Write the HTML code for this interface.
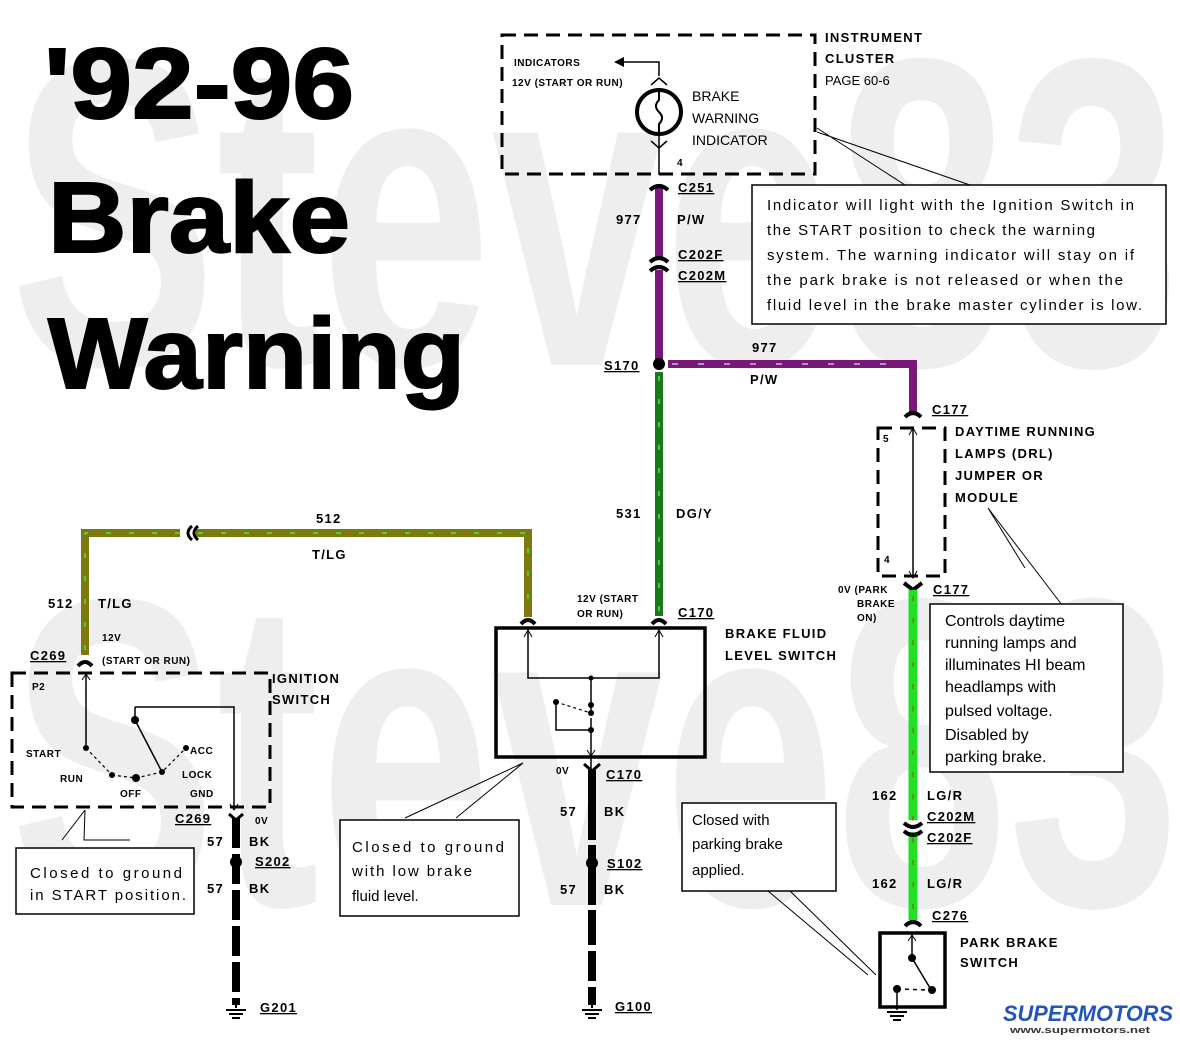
<!DOCTYPE html>
<html><head><meta charset="utf-8"><style>
html,body{margin:0;padding:0;background:#fff}
svg{display:block}
.b{font-family:"Liberation Sans",sans-serif;font-weight:bold;fill:#000}
.s{font-family:"Liberation Sans",sans-serif;fill:#000}
.m{font-family:"Liberation Sans",sans-serif;font-weight:bold;fill:#000;font-size:13px;letter-spacing:1.3px}
.t{font-size:10px;letter-spacing:0.5px}
</style></head><body>
<svg width="1180" height="1040" viewBox="0 0 1180 1040" xmlns="http://www.w3.org/2000/svg">
<text x="10" y="365" class="b" font-size="440" style="fill:#eeeeee" textLength="1170" lengthAdjust="spacingAndGlyphs">Steve83</text>
<text x="10" y="905" class="b" font-size="440" style="fill:#eeeeee" textLength="1170" lengthAdjust="spacingAndGlyphs">Steve83</text>

<text x="44" y="118" class="b" font-size="100" stroke="#000" stroke-width="2" textLength="310" lengthAdjust="spacingAndGlyphs">'92-96</text>
<text x="48" y="252" class="b" font-size="100" stroke="#000" stroke-width="2" textLength="302" lengthAdjust="spacingAndGlyphs">Brake</text>
<text x="48" y="388" class="b" font-size="100" stroke="#000" stroke-width="2" textLength="417" lengthAdjust="spacingAndGlyphs">Warning</text>

<rect x="502" y="35" width="313" height="139" fill="none" stroke="#000" stroke-width="3" stroke-dasharray="14,8"/>
<text x="825" y="42" class="m">INSTRUMENT</text>
<text x="825" y="63" class="m">CLUSTER</text>
<text x="825" y="85" class="s" font-size="13">PAGE 60-6</text>
<text x="514" y="66" class="m t">INDICATORS</text>
<text x="512" y="86" class="m t">12V (START OR RUN)</text>
<polyline points="659,76 659,62 622,62" fill="none" stroke="#000" stroke-width="1.5"/>
<polygon points="614,62 624,57 624,67" fill="#000"/>
<circle cx="659" cy="112" r="22" fill="#fff" stroke="#000" stroke-width="4"/>
<path d="M659,92 v8 q-6,6 0,12 q6,6 0,12 v8" fill="none" stroke="#000" stroke-width="2"/>
<polyline points="651,85 659,78 667,85" fill="none" stroke="#000" stroke-width="1.5"/>
<polyline points="651,141 659,148 667,141" fill="none" stroke="#000" stroke-width="1.5"/>
<line x1="659" y1="134" x2="659" y2="175" stroke="#000" stroke-width="1.5"/>
<text x="692" y="101" class="s" font-size="14">BRAKE</text>
<text x="692" y="123" class="s" font-size="14">WARNING</text>
<text x="692" y="145" class="s" font-size="14">INDICATOR</text>
<text x="677" y="166" class="m t">4</text>

<line x1="659" y1="186" x2="659" y2="260" stroke="#7a187a" stroke-width="8"/>
<line x1="659" y1="270" x2="659" y2="366" stroke="#7a187a" stroke-width="8"/>
<polyline points="668,364 913,364 913,412" fill="none" stroke="#7a187a" stroke-width="8"/>
<line x1="672" y1="364" x2="905" y2="364" stroke="#fff" stroke-width="1" stroke-dasharray="6,20"/>
<path d="M650,190 q9,-8 18,0" fill="none" stroke="#000" stroke-width="4"/>
<path d="M650,262 q9,-8 18,0 M650,271 q9,-8 18,0" fill="none" stroke="#000" stroke-width="4"/>
<text x="678" y="192" class="m" style="text-decoration:underline">C251</text>
<text x="616" y="224" class="m">977</text>
<text x="677" y="224" class="m">P/W</text>
<text x="678" y="259" class="m" style="text-decoration:underline">C202F</text>
<text x="678" y="280" class="m" style="text-decoration:underline">C202M</text>
<circle cx="659" cy="364" r="6" fill="#000"/>
<text x="604" y="370" class="m" style="text-decoration:underline">S170</text>
<text x="752" y="352" class="m">977</text>
<text x="750" y="384" class="m">P/W</text>

<path d="M817,128 L905,185 M817,132 L970,185" fill="none" stroke="#000" stroke-width="1"/>
<rect x="752" y="185" width="414" height="139" fill="#fff" stroke="#000" stroke-width="1.5"/>
<g class="s" font-size="15">
<text x="767" y="210" textLength="367">Indicator will light with the Ignition Switch in</text>
<text x="767" y="235" textLength="328">the START position to check the warning</text>
<text x="767" y="260" textLength="367">system. The warning indicator will stay on if</text>
<text x="767" y="285" textLength="356">the park brake is not released or when the</text>
<text x="767" y="310" textLength="375">fluid level in the brake master cylinder is low.</text>
</g>

<line x1="659" y1="372" x2="659" y2="616" stroke="#1a7a1a" stroke-width="8"/>
<line x1="659" y1="376" x2="659" y2="612" stroke="#9f9" stroke-width="1" stroke-dasharray="5,18"/>
<text x="616" y="518" class="m">531</text>
<text x="676" y="518" class="m">DG/Y</text>

<polyline points="85,655 85,533 528,533 528,617" fill="none" stroke="#7a7a10" stroke-width="8"/>
<polyline points="85,650 85,533 528,533 528,612" fill="none" stroke="#4f4" stroke-width="1.2" stroke-dasharray="5,18"/>
<rect x="180" y="524" width="16" height="18" fill="#fff"/>
<path d="M192,526 q-8,7 0,14 M198,526 q-8,7 0,14" fill="none" stroke="#000" stroke-width="3"/>
<text x="316" y="523" class="m">512</text>
<text x="312" y="559" class="m">T/LG</text>
<text x="48" y="608" class="m">512</text>
<text x="98" y="608" class="m">T/LG</text>
<path d="M78,666 q7,-8 14,0" fill="none" stroke="#000" stroke-width="4"/>
<path d="M521,624 q7,-8 14,0" fill="none" stroke="#000" stroke-width="4"/>
<path d="M652,624 q7,-8 14,0" fill="none" stroke="#000" stroke-width="4"/>
<text x="30" y="660" class="m" style="text-decoration:underline">C269</text>
<text x="102" y="641" class="m t">12V</text>
<text x="102" y="664" class="m t">(START OR RUN)</text>
<text x="577" y="602" class="m t">12V (START</text>
<text x="577" y="617" class="m t">OR RUN)</text>
<text x="678" y="617" class="m" style="text-decoration:underline">C170</text>

<rect x="12" y="673" width="258" height="134" fill="none" stroke="#000" stroke-width="3" stroke-dasharray="14,8"/>
<text x="272" y="683" class="m">IGNITION</text>
<text x="272" y="704" class="m">SWITCH</text>
<text x="32" y="690" class="m t">P2</text>
<line x1="86" y1="674" x2="86" y2="748" stroke="#000" stroke-width="1.5"/>
<polyline points="82,680 86,674 90,680" fill="none" stroke="#000" stroke-width="1"/>
<circle cx="86" cy="748" r="3" fill="#000"/>
<text x="26" y="757" class="m t">START</text>
<text x="60" y="782" class="m t">RUN</text>
<text x="120" y="797" class="m t">OFF</text>
<text x="190" y="754" class="m t">ACC</text>
<text x="182" y="778" class="m t">LOCK</text>
<text x="190" y="797" class="m t">GND</text>
<circle cx="112" cy="775" r="3" fill="#000"/>
<circle cx="136" cy="778" r="4" fill="#000"/>
<circle cx="162" cy="772" r="3" fill="#000"/>
<circle cx="186" cy="748" r="3" fill="#000"/>
<circle cx="135" cy="720" r="4" fill="#000"/>
<path d="M86,748 L112,775 M112,775 L136,778 L162,772 L186,748" fill="none" stroke="#000" stroke-width="1.2" stroke-dasharray="3,3"/>
<line x1="135" y1="720" x2="162" y2="772" stroke="#000" stroke-width="1.5"/>
<polyline points="135,707 234,707 234,810" fill="none" stroke="#000" stroke-width="1.5"/>
<line x1="135" y1="707" x2="135" y2="720" stroke="#000" stroke-width="1.5"/>
<polyline points="230,804 234,810 238,804" fill="none" stroke="#000" stroke-width="1"/>
<text x="255" y="824" class="m t">0V</text>
<text x="175" y="823" class="m" style="text-decoration:underline">C269</text>
<path d="M229,814 L236,820 L243,814" fill="none" stroke="#000" stroke-width="3"/>
<line x1="236" y1="818" x2="236" y2="1005" stroke="#000" stroke-width="8" stroke-dasharray="30,6"/>
<circle cx="236" cy="862" r="6" fill="#000"/>
<text x="207" y="846" class="m">57</text><text x="249" y="846" class="m">BK</text>
<text x="255" y="866" class="m" style="text-decoration:underline">S202</text>
<text x="207" y="893" class="m">57</text><text x="249" y="893" class="m">BK</text>
<path d="M236,1000 v8 M226,1010 h20 M229,1014 h14 M232,1018 h8" stroke="#000" stroke-width="2"/>
<text x="260" y="1012" class="m" style="text-decoration:underline">G201</text>
<path d="M85,810 L62,840 M85,810 L84,840 L130,840" fill="none" stroke="#000" stroke-width="1"/>
<rect x="16" y="848" width="178" height="66" fill="#fff" stroke="#000" stroke-width="1.5"/>
<text x="30" y="878" class="s" font-size="15" textLength="152">Closed to ground</text>
<text x="30" y="900" class="s" font-size="15" textLength="156">in START position.</text>

<rect x="496" y="628" width="209" height="129" fill="none" stroke="#000" stroke-width="3.5"/>
<text x="725" y="638" class="m">BRAKE FLUID</text>
<text x="725" y="660" class="m">LEVEL SWITCH</text>
<polyline points="528,630 528,678 659,678 659,630" fill="none" stroke="#000" stroke-width="1.5"/>
<polyline points="524,637 528,630 532,637" fill="none" stroke="#000" stroke-width="1"/>
<polyline points="655,637 659,630 663,637" fill="none" stroke="#000" stroke-width="1"/>
<line x1="591" y1="678" x2="591" y2="712" stroke="#000" stroke-width="1.5"/>
<circle cx="591" cy="678" r="2.5" fill="#000"/>
<circle cx="591" cy="705" r="3" fill="#000"/><circle cx="591" cy="713" r="3" fill="#000"/>
<circle cx="556" cy="702" r="3" fill="#000"/>
<line x1="556" y1="702" x2="591" y2="713" stroke="#000" stroke-width="1.2" stroke-dasharray="3,3"/>
<polyline points="556,702 556,730 591,730" fill="none" stroke="#000" stroke-width="1.5"/>
<circle cx="591" cy="730" r="3" fill="#000"/>
<line x1="591" y1="718" x2="591" y2="775" stroke="#000" stroke-width="1.5"/>
<polyline points="587,750 591,756 595,750" fill="none" stroke="#000" stroke-width="1"/>
<path d="M584,764 L592,771 L600,764" fill="none" stroke="#000" stroke-width="3"/>
<text x="556" y="774" class="m t">0V</text>
<text x="606" y="779" class="m" style="text-decoration:underline">C170</text>
<line x1="592" y1="770" x2="592" y2="1005" stroke="#000" stroke-width="8" stroke-dasharray="70,5,60,5,35,6,30,6"/>
<circle cx="592" cy="863" r="6" fill="#000"/>
<text x="560" y="816" class="m">57</text><text x="604" y="816" class="m">BK</text>
<text x="607" y="868" class="m" style="text-decoration:underline">S102</text>
<text x="560" y="894" class="m">57</text><text x="604" y="894" class="m">BK</text>
<path d="M592,1000 v8 M582,1010 h20 M585,1014 h14 M588,1018 h8" stroke="#000" stroke-width="2"/>
<text x="615" y="1011" class="m" style="text-decoration:underline">G100</text>
<path d="M405,818 L523,763 L456,818" fill="none" stroke="#000" stroke-width="1"/>
<rect x="340" y="820" width="179" height="96" fill="#fff" stroke="#000" stroke-width="1.5"/>
<text x="352" y="852" class="s" font-size="15" textLength="152">Closed to ground</text>
<text x="352" y="876" class="s" font-size="15" textLength="120">with low brake</text>
<text x="352" y="901" class="s" font-size="15">fluid level.</text>

<path d="M905,417 q8,-8 16,0" fill="none" stroke="#000" stroke-width="4"/>
<text x="932" y="414" class="m" style="text-decoration:underline">C177</text>
<rect x="878" y="428" width="67" height="148" fill="none" stroke="#000" stroke-width="3" stroke-dasharray="14,8"/>
<text x="883" y="442" class="m t">5</text>
<text x="884" y="563" class="m t">4</text>
<line x1="913" y1="428" x2="913" y2="578" stroke="#000" stroke-width="1.5"/>
<polyline points="909,435 913,428 917,435" fill="none" stroke="#000" stroke-width="1"/>
<polyline points="909,571 913,578 917,571" fill="none" stroke="#000" stroke-width="1"/>
<text x="955" y="436" class="m">DAYTIME RUNNING</text>
<text x="955" y="458" class="m">LAMPS (DRL)</text>
<text x="955" y="480" class="m">JUMPER OR</text>
<text x="955" y="502" class="m">MODULE</text>
<path d="M904,583 L913,590 L922,583" fill="none" stroke="#000" stroke-width="4"/>
<text x="933" y="594" class="m" style="text-decoration:underline">C177</text>
<text x="838" y="593" class="m t">0V (PARK</text>
<text x="857" y="607" class="m t">BRAKE</text>
<text x="857" y="621" class="m t">ON)</text>
<line x1="913" y1="590" x2="913" y2="820" stroke="#22e022" stroke-width="9"/>
<line x1="913" y1="832" x2="913" y2="920" stroke="#22e022" stroke-width="9"/>
<line x1="913" y1="596" x2="913" y2="915" stroke="#7a5a20" stroke-width="1" stroke-dasharray="5,17"/>
<path d="M904,823 q9,8 18,0 M904,831 q9,8 18,0" fill="none" stroke="#000" stroke-width="4"/>
<text x="872" y="800" class="m">162</text><text x="927" y="800" class="m">LG/R</text>
<text x="927" y="821" class="m" style="text-decoration:underline">C202M</text>
<text x="927" y="842" class="m" style="text-decoration:underline">C202F</text>
<text x="872" y="888" class="m">162</text><text x="927" y="888" class="m">LG/R</text>
<path d="M905,926 q8,-8 16,0" fill="none" stroke="#000" stroke-width="4"/>
<text x="932" y="920" class="m" style="text-decoration:underline">C276</text>
<path d="M988,508 L1025,568 M988,508 L1062,605" fill="none" stroke="#000" stroke-width="1"/>
<rect x="930" y="604" width="193" height="168" fill="#fff" stroke="#000" stroke-width="1.5"/>
<g class="s" font-size="16">
<text x="945" y="626">Controls daytime</text>
<text x="945" y="648">running lamps and</text>
<text x="945" y="670">illuminates HI beam</text>
<text x="945" y="692">headlamps with</text>
<text x="945" y="716">pulsed voltage.</text>
<text x="945" y="740">Disabled by</text>
<text x="945" y="762">parking brake.</text>
</g>

<rect x="880" y="933" width="65" height="74" fill="none" stroke="#000" stroke-width="3.5"/>
<text x="960" y="947" class="m">PARK BRAKE</text>
<text x="960" y="967" class="m">SWITCH</text>
<line x1="912" y1="935" x2="912" y2="958" stroke="#000" stroke-width="1.5"/>
<polyline points="908,941 912,935 916,941" fill="none" stroke="#000" stroke-width="1"/>
<circle cx="912" cy="958" r="4" fill="#000"/>
<line x1="912" y1="958" x2="930" y2="988" stroke="#000" stroke-width="1.5"/>
<circle cx="932" cy="990" r="4" fill="#000"/>
<circle cx="897" cy="989" r="4" fill="#000"/>
<line x1="897" y1="989" x2="930" y2="990" stroke="#000" stroke-width="1.5" stroke-dasharray="4,4"/>
<line x1="897" y1="989" x2="897" y2="1010" stroke="#000" stroke-width="1.5"/>
<path d="M887,1012 h20 M890,1016 h14 M893,1020 h8" stroke="#000" stroke-width="2"/>
<path d="M768,891 L868,975 M790,891 L876,975" fill="none" stroke="#000" stroke-width="1"/>
<rect x="682" y="803" width="154" height="88" fill="#fff" stroke="#000" stroke-width="1.5"/>
<text x="692" y="825" class="s" font-size="15">Closed with</text>
<text x="692" y="849" class="s" font-size="15">parking brake</text>
<text x="692" y="875" class="s" font-size="15">applied.</text>

<text x="1003" y="1021" font-family="Liberation Sans,sans-serif" font-weight="bold" font-style="italic" font-size="22" fill="#2255bb" textLength="170" lengthAdjust="spacingAndGlyphs">SUPERMOTORS</text>
<text x="1010" y="1033" font-family="Liberation Sans,sans-serif" font-weight="bold" font-size="9" fill="#333" textLength="140" lengthAdjust="spacingAndGlyphs">www.supermotors.net</text>
</svg>
</body></html>
